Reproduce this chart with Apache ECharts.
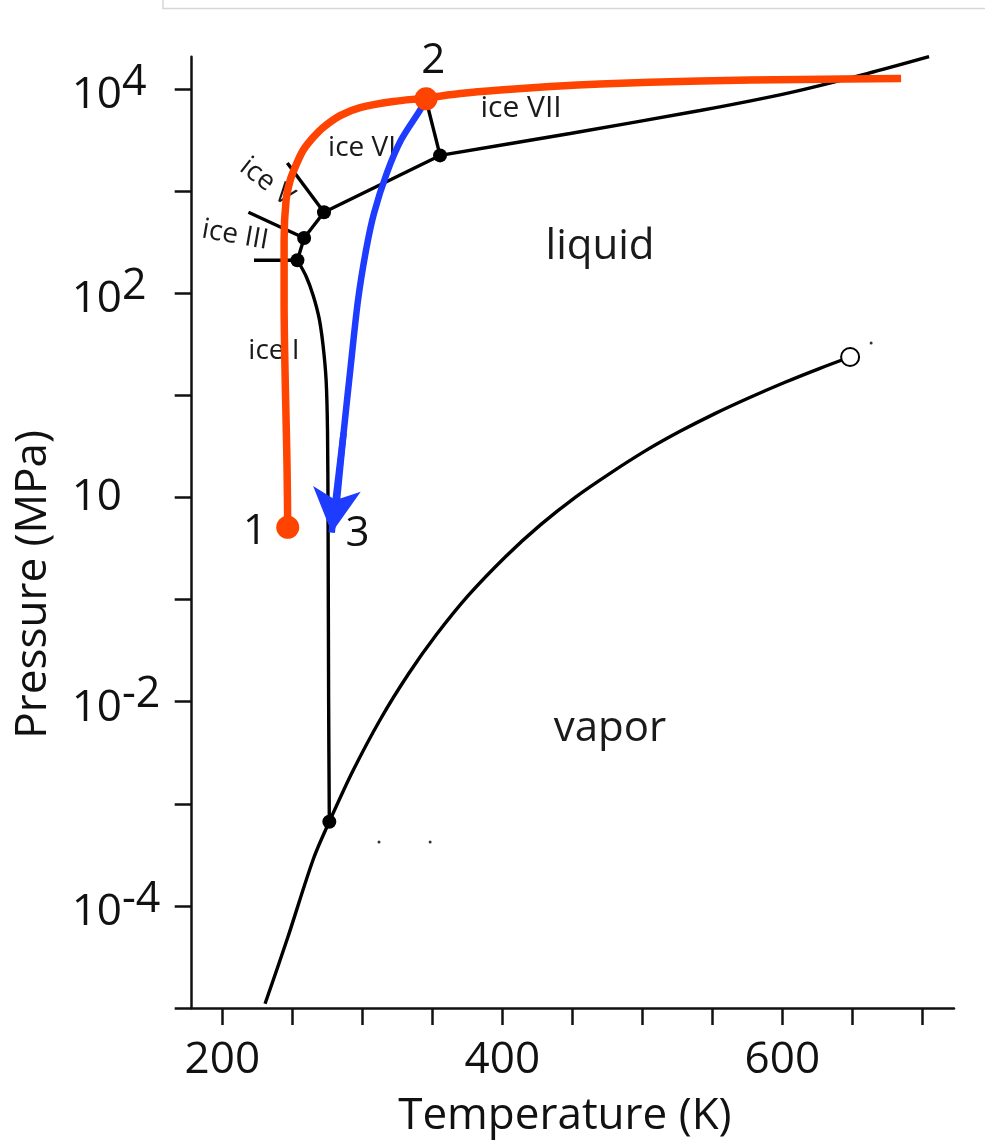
<!DOCTYPE html>
<html><head><meta charset="utf-8">
<script src="https://cdn.jsdelivr.net/npm/echarts@6/dist/echarts.min.js"></script>
<style>html,body{margin:0;padding:0;background:#fff}#c{width:985px;height:1143px}</style>
</head><body><div id="c"></div><script>
// ---- data: temperature (K) and pressure (MPa) ----
const sublimationT = [230.5, 246.4, 265.0, 276.4];
const sublimationP = [1.10e-5, 4.76e-5, 2.88e-4, 6.67e-4];
const vaporT = [276.4, 293.1, 313.0, 332.9, 352.8, 375.7, 402.6, 427.4, 452.3, 477.2, 502.1, 526.9, 551.8, 576.7, 601.5, 626.4, 648.4];
const vaporP = [6.67e-4, 2.08e-3, 6.77e-3, 0.01867, 0.0452, 0.110, 0.2665, 0.543, 1.011, 1.736, 2.863, 4.45, 6.64, 9.55, 13.39, 18.34, 23.8];
const iceIMeltT = [276.4, 275.9, 275.5, 275.1, 274.1, 271.9, 269.1, 264.8, 259.8, 253.6];
const iceIMeltP = [6.67e-4, 0.01057, 0.607, 4.59, 14.2, 31.1, 57.1, 95.9, 147, 211];
const iceIIIBoundT = [222.6, 253.6];
const iceIIIBoundP = [211, 211];
const iceIIIVT = [218.6, 258.4];
const iceIIIVP = [622, 349];
const iceIIIMeltT = [253.6, 258.4];
const iceIIIMeltP = [211, 349];
const iceVMeltT = [258.4, 272.6];
const iceVMeltP = [349, 622];
const iceVVIT = [246.4, 272.6];
const iceVVIP = [1888, 622];
const iceVIMeltT = [272.6, 355.5];
const iceVIMeltP = [622, 2245];
const iceVIVIIT = [355.5, 345.5];
const iceVIVIIP = [2245, 7850];
const iceVIIMeltT = [355.5, 448.4, 541.2, 605.5, 660.5, 704.8];
const iceVIIMeltP = [2245, 3681, 6180, 9268, 14220, 20840];
const triplePointT = [253.6, 258.4, 272.6, 355.5, 276.4];
const triplePointP = [211, 349, 622, 2245, 6.67e-4];
const criticalT = [648.4];
const criticalP = [23.8];
const speckT = [311.9, 348.4, 663.4];
const speckP = [4.23e-4, 4.23e-4, 32.6];
// path 1 -> 2 (orange) and 2 -> 3 (blue)
const path12T = [246.7, 246.2, 244.1, 244.1, 245.5, 248.4, 251.9, 257.6, 264.8, 271.9, 284.1, 298.4, 322.0, 345.5, 369.8, 398.4, 434.1, 469.8, 541.2, 612.6, 684.8];
const path12P = [0.511, 2.0, 85.9, 331, 815, 1277, 1710, 2508, 3357, 4207, 5510, 6596, 7570, 8190, 9060, 9820, 10600, 11220, 12050, 12450, 12700];
const path23T = [345.5, 341.2, 327.6, 317.4, 308.3, 302.6, 296.9, 291.6, 286.6, 281.7];
const path23P = [8000, 6237, 3172, 1497, 608, 264, 85.9, 19.0, 4.30, 0.883];
const arrowT = [286.6, 278.1];
const arrowP = [4.30, 0.453];
const stateNames = ['1', '2'];
const stateT = [246.7, 345.5];
const stateP = [0.511, 8050];
const stateLabelNames = ['1', '2', '3'];
const stateLabelT = [223.4, 350.6, 296.6];
const stateLabelP = [0.458, 19050, 0.443];
const regionNames = ['ice I', 'ice III', 'ice V', 'ice VI', 'ice VII', 'liquid', 'vapor'];
const regionT = [236.9, 209.1, 231.8, 299.8, 413.4, 469.8, 476.9];
const regionP = [27.2, 371, 1230, 2624, 6457, 284, 5.37e-3];
// axis ticks (K and log10 MPa)
const xTicks = [200, 250, 300, 350, 400, 450, 500, 550, 600, 650, 700];
const xLabels = [200, 400, 600];
const yTicks = [-5, -4, -3, -2, -1, 0, 1, 2, 3, 4];
const yLabels = [-4, -2, 0, 2, 4];

// ---- styles ----
const FONT = "'Open Sans', 'Noto Sans', sans-serif";
const INK = '#111';
const ORANGE = '#ff4300';
const BLUE = '#1e3cff';
const regionStyle = {
  'ice I': {size: 28, rot: 0}, 'ice III': {size: 28, rot: -10}, 'ice V': {size: 28, rot: -38},
  'ice VI': {size: 28, rot: 0}, 'ice VII': {size: 30, rot: 0}, 'liquid': {size: 42, rot: 0}, 'vapor': {size: 42, rot: 0}
};

const L = v => Math.log10(v);
const pts = (Ts, Ps) => Ts.map((t, i) => [t, L(Ps[i])]);
function blackLine(Ts, Ps, smooth) {
  return {type: 'line', data: pts(Ts, Ps), smooth: smooth || false, symbol: 'none', silent: true,
    lineStyle: {color: '#000', width: 3.4}, z: 2, animation: false};
}
function dots(Ts, Ps, size, itemStyle, z) {
  return {type: 'scatter', data: pts(Ts, Ps), symbolSize: size, itemStyle: Object.assign({opacity: 1}, itemStyle), z: z, silent: true};
}

const chart = echarts.init(document.getElementById('c'));
chart.setOption({
  animation: false,
  backgroundColor: '#fff',
  graphic: [{type: 'polyline', shape: {points: [[163, 0], [163, 8.5], [985, 8.5]]}, style: {stroke: '#d6d6d6', lineWidth: 1.5, fill: 'none'}}],
  grid: {left: 191.7, top: 56.7, right: 31, bottom: 133.7, containLabel: false},
  xAxis: {
    type: 'value', min: 178.1, max: 722.6,
    axisLine: {onZero: false, lineStyle: {color: INK, width: 2.5}},
    axisTick: {length: 17, customValues: xTicks, lineStyle: {color: INK, width: 2.5}},
    axisLabel: {customValues: xLabels, margin: 30, fontSize: 44, fontFamily: FONT, color: INK},
    splitLine: {show: false},
    name: 'Temperature (K)', nameLocation: 'middle', nameGap: 86,
    nameTextStyle: {fontSize: 44, fontFamily: FONT, color: INK, padding: [0, 16, 0, 0]}
  },
  yAxis: {
    type: 'value', min: -5, max: 4.318,
    axisLine: {onZero: false, lineStyle: {color: INK, width: 2.5}},
    axisTick: {length: 17, customValues: yTicks, lineStyle: {color: INK, width: 2.5}},
    axisLabel: {
      customValues: yLabels, margin: 120, align: 'left',
      formatter: v => v === 0 ? '{n|10}' : '{m|10}{s|' + v + '}',
      rich: {
        n: {fontSize: 44, fontFamily: FONT, color: INK, lineHeight: 44},
        m: {fontSize: 44, fontFamily: FONT, color: INK, lineHeight: 44, padding: [13, 0, 0, 0]},
        s: {fontSize: 43, fontFamily: FONT, color: INK, lineHeight: 44, padding: [0, 0, 13, 0]}
      }
    },
    splitLine: {show: false},
    name: 'Pressure (MPa)', nameLocation: 'middle', nameGap: 136, nameRotate: 90,
    nameTextStyle: {fontSize: 44, fontFamily: FONT, color: INK, padding: [0, 104, 0, 0]}
  },
  series: [
    blackLine(sublimationT, sublimationP, 0.3),
    blackLine(vaporT, vaporP, 0.3),
    blackLine(iceIMeltT, iceIMeltP, 0.3),
    blackLine(iceIIIBoundT, iceIIIBoundP),
    blackLine(iceIIIVT, iceIIIVP),
    blackLine(iceIIIMeltT, iceIIIMeltP),
    blackLine(iceVMeltT, iceVMeltP),
    blackLine(iceVVIT, iceVVIP),
    blackLine(iceVIMeltT, iceVIMeltP),
    blackLine(iceVIVIIT, iceVIVIIP),
    blackLine(iceVIIMeltT, iceVIIMeltP, 0.3),
    dots(triplePointT, triplePointP, 14, {color: '#000'}, 3),
    dots(criticalT, criticalP, 18, {color: '#fff', borderColor: '#000', borderWidth: 2}, 3),
    dots(speckT, speckP, 3, {color: '#333'}, 3),
    {type: 'scatter', z: 3, silent: true, symbolSize: 1, itemStyle: {color: 'rgba(0,0,0,0)', opacity: 1},
      data: regionNames.map((n, i) => ({name: n, value: [regionT[i], L(regionP[i])],
        label: {fontSize: regionStyle[n].size, rotate: regionStyle[n].rot}})),
      label: {show: true, position: 'inside', formatter: '{b}', color: '#1a1a1a', opacity: 1, fontFamily: FONT}},
    {type: 'line', data: pts(path12T, path12P), smooth: 0.3, symbol: 'none', silent: true,
      lineStyle: {color: ORANGE, width: 7.5, cap: 'butt'}, z: 5},
    {type: 'line', data: pts(path23T, path23P), smooth: 0.3, symbol: 'none', silent: true,
      lineStyle: {color: BLUE, width: 6.5}, z: 5,
      markLine: {silent: true, symbol: ['none', 'arrow'], symbolSize: [36, 44], label: {show: false},
        lineStyle: {color: BLUE, width: 6.5, type: 'solid', opacity: 1},
        data: [[{coord: [arrowT[0], L(arrowP[0])]}, {coord: [arrowT[1], L(arrowP[1])]}]]}},
    dots(stateT, stateP, 23, {color: ORANGE}, 6),
    {type: 'scatter', z: 6, silent: true, symbolSize: 1, itemStyle: {color: 'rgba(0,0,0,0)', opacity: 1},
      data: stateLabelNames.map((n, i) => ({name: n, value: [stateLabelT[i], L(stateLabelP[i])]})),
      label: {show: true, position: 'inside', formatter: '{b}', fontSize: 42, color: '#111', opacity: 1, fontFamily: FONT}}
  ]
});
</script></body></html>
